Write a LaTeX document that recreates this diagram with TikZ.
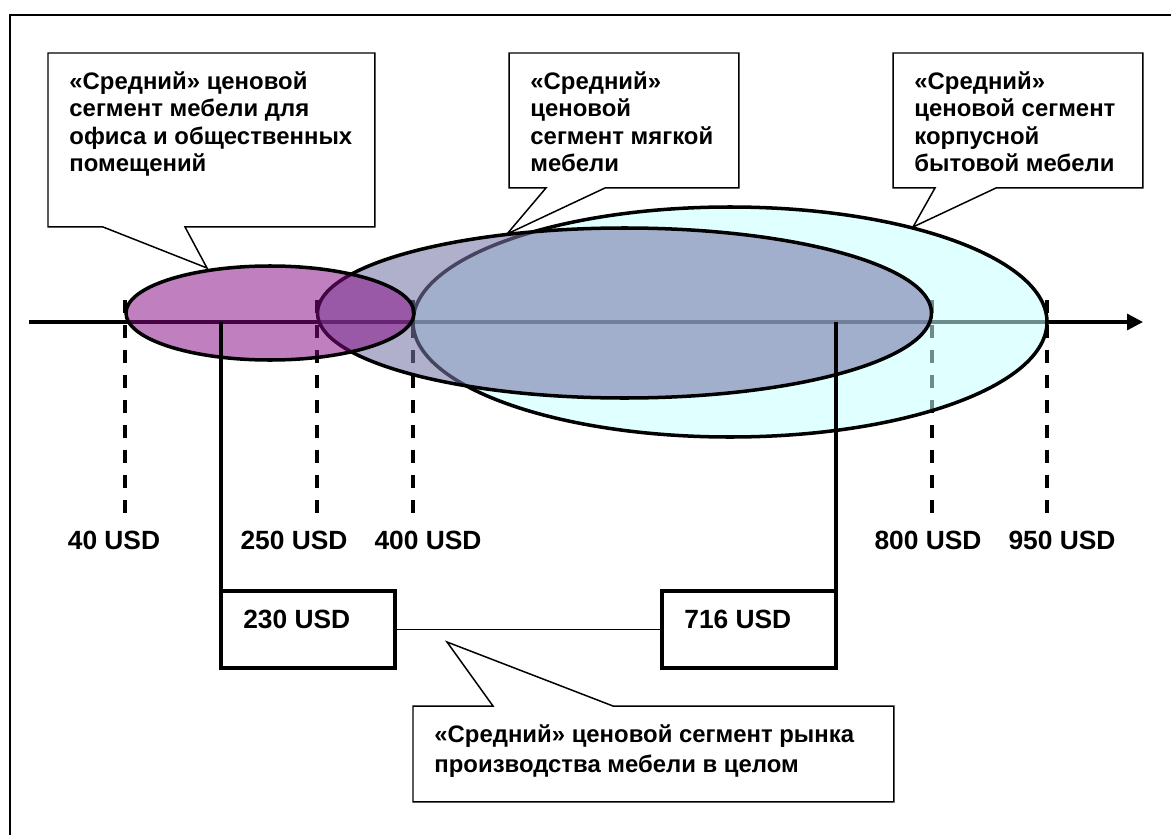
\documentclass[tikz,border=0pt]{standalone}
\usepackage{fontspec}
\setmainfont{Liberation Sans}
\usetikzlibrary{arrows.meta, calc}

\definecolor{officefill}{RGB}{134,11,134}
\definecolor{softfill}{RGB}{119,119,167}
\definecolor{cabinetfill}{RGB}{198,255,255}

\begin{document}
\begin{tikzpicture}[x=0.02cm, y=-0.02cm,
    outline/.style={draw, line width=0.85pt, fill=white},
    notebox/.style={rectangle, inner sep=0pt, outer sep=0pt, anchor=north west},
    notetext/.style={anchor=north west, align=left, inner xsep=12pt, inner ysep=10.4pt,
        font=\fontsize{13.6}{15.6}\selectfont\bfseries},
    pricebox/.style={notebox, draw, line width=1.8pt, minimum width=3.48cm, minimum height=1.54cm},
    pricetext/.style={notetext, inner xsep=12.5pt, inner ysep=10.6pt, font=\fontsize{15}{18}\selectfont\bfseries},
    pricelabel/.style={anchor=base, inner sep=0pt, font=\fontsize{15}{18}\selectfont\bfseries},
    tick/.style={line width=2pt, dash pattern=on 7.4pt off 6.8pt},
    segment/.style={draw, line width=2pt}
]
    \useasboundingbox (0,0) rectangle (1171,835);

    % Frame
    \draw[line width=1.2pt] (10,835) |- (1171,15);

    % Price axis
    \coordinate (axis start) at (29,322);
    \coordinate (axis end) at (1143,322);
    \draw[line width=1.8pt, -{Triangle[length=9pt,width=9pt]}] (axis start) -- (axis end);

    % Ticks and prices
    \foreach \x/\lx/\v in {125/114/40, 317/294/250, 413/428/400, 932/928/800, 1047/1062/950} {
        \draw[tick] (\x,300) -- (\x,513);
        \node[pricelabel] (lbl\v) at (\lx,549) {\v\ USD};
    }

    % Segments
    \draw[segment, fill=cabinetfill, fill opacity=.55] (730,322) ellipse [x radius=317, y radius=115];
    \draw[segment, fill=softfill, fill opacity=.58] (624.5,313) ellipse [x radius=307, y radius=85];
    \draw[segment, fill=officefill, fill opacity=.52] (270,313) ellipse [x radius=144, y radius=47];

    % Market as a whole
    \coordinate (a230) at (221,322);
    \coordinate (a716) at (836,322);
    \node[pricebox] (b230) at (221,591) {};
    \node[pricebox, anchor=north east] (b716) at (836,591) {};
    \node[pricetext] (t230) at (b230.north west) {230 USD};
    \node[pricetext] (t716) at (b716.north west) {716 USD};
    \draw[line width=1.8pt] (a230) -- (b230.north west);
    \draw[line width=1.8pt] (a716) -- (b716.north east);
    \draw[line width=0.6pt] (b230.east) -- (b716.west);

    % Callout: office
    \node[notebox, minimum width=6.54cm, minimum height=3.48cm] (c1) at (48,53) {};
    \coordinate (tip1) at (207,268);
    \draw[outline] (c1.south west) |- (c1.north east) -- (c1.south east)
        -- ($(c1.south west)+(137,0)$) -- (tip1) -- ($(c1.south west)+(55,0)$) -- cycle;
    \node[notetext] (c1 text) at (c1.north west)
        {«Средний» ценовой\\сегмент мебели для\\офиса и общественных\\помещений};

    % Callout: soft furniture
    \node[notebox, minimum width=4.6cm, minimum height=2.7cm] (c2) at (509,53) {};
    \coordinate (tip2) at (507,234);
    \draw[outline] (c2.south west) |- (c2.north east) -- (c2.south east)
        -- ($(c2.south west)+(96,0)$) -- (tip2) -- ($(c2.south west)+(37,0)$) -- cycle;
    \node[notetext] (c2 text) at (c2.north west)
        {«Средний»\\ценовой\\сегмент мягкой\\мебели};

    % Callout: cabinet furniture
    \node[notebox, minimum width=5cm, minimum height=2.7cm] (c3) at (893,53) {};
    \coordinate (tip3) at (913,227);
    \draw[outline] (c3.south west) |- (c3.north east) -- (c3.south east)
        -- ($(c3.south west)+(103,0)$) -- (tip3) -- ($(c3.south west)+(42,0)$) -- cycle;
    \node[notetext] (c3 text) at (c3.north west)
        {«Средний»\\ценовой сегмент\\корпусной\\бытовой мебели};

    % Callout: market
    \node[notebox, minimum width=9.62cm, minimum height=1.92cm] (c4) at (413,706) {};
    \coordinate (tip4) at (447,642);
    \draw[outline] (c4.north west) -- ($(c4.north west)+(80,0)$) -- (tip4)
        -- ($(c4.north west)+(200,0)$) -- (c4.north east) |- (c4.south west) -- cycle;
    \node[notetext, font=\fontsize{13.6}{17}\selectfont\bfseries] (c4 text) at (c4.north west)
        {«Средний» ценовой сегмент рынка\\производства мебели в целом};
\end{tikzpicture}
\end{document}
